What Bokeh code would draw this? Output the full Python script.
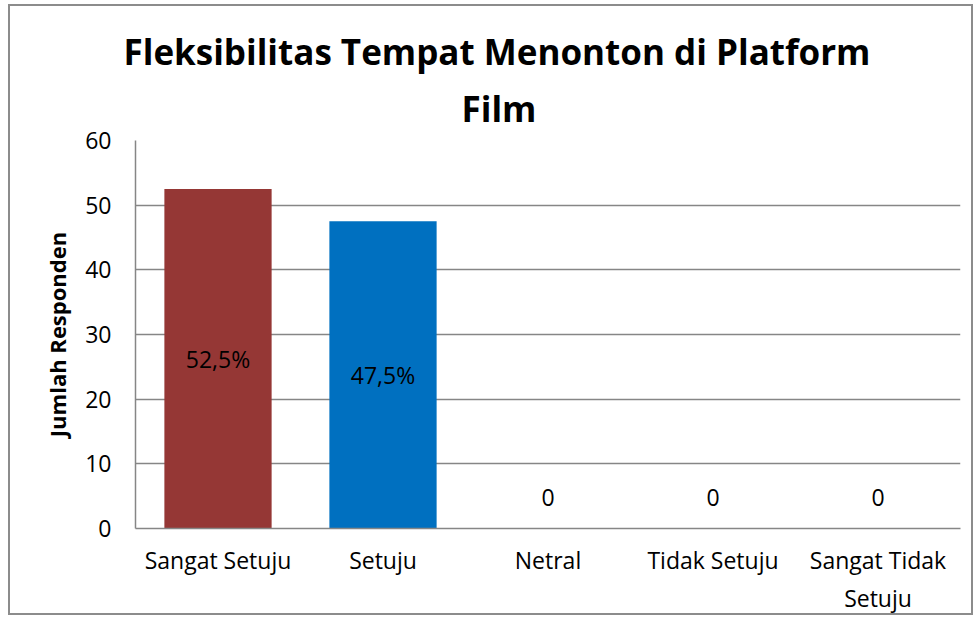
from bokeh.plotting import figure
from bokeh.models import ColumnDataSource, FactorRange, Range1d, Title
from bokeh.core.properties import value
from bokeh.embed import file_html
from bokeh.resources import INLINE

categories = ["Sangat Setuju", "Setuju", "Netral", "Tidak Setuju", "Sangat Tidak\nSetuju"]
values = [52.5, 47.5, 0, 0, 0]
label_texts = ["52,5%", "47,5%", "0", "0", "0"]
colors = ["#953735", "#0070C0", "#4F81BD", "#4F81BD", "#4F81BD"]
y_ticks = [0, 10, 20, 30, 40, 50, 60]
title_lines = ["Fleksibilitas Tempat Menonton di Platform", "Film"]

FONT = "Open Sans"
GRID = "#868686"

src = ColumnDataSource(dict(cat=categories, val=values, color=colors))

p = figure(
    width=965, height=611,
    x_range=FactorRange(factors=categories, range_padding=0),
    y_range=Range1d(0, 60),
    output_backend="svg", toolbar_location=None,
    min_border_left=125, min_border_right=15, min_border_top=134, min_border_bottom=89,
    styles={"border": "2px solid #8c8c8c", "margin-left": "8px", "margin-top": "4px"},
)

p.vbar(x="cat", top="val", width=0.65, color="color", line_color=None, source=src)

nz = ColumnDataSource(dict(cat=categories[:2], y=[v / 2 for v in values[:2]], lab=label_texts[:2]))
zz = ColumnDataSource(dict(cat=categories[2:], y=values[2:], lab=label_texts[2:]))
p.text(x="cat", y="y", text="lab", source=nz, text_align="center", text_baseline="middle",
       text_font=value(FONT), text_font_size="23px", text_color="black")
p.text(x="cat", y="y", text="lab", source=zz, text_align="center", text_baseline="middle",
       text_font=value(FONT), text_font_size="23px", text_color="black", y_offset=-31)

p.title.text = title_lines[0]
p.title.align = "left"
p.title.offset = -12
p.title.text_font = FONT
p.title.text_font_size = "35px"
p.title.text_font_style = "bold"
p.title.text_color = "black"
p.title.standoff = 0
p.add_layout(Title(text=title_lines[1], align="left", offset=326, text_color="black", standoff=17,
                   text_font=FONT, text_font_size="35px", text_font_style="bold"), "above")

p.yaxis.ticker = y_ticks
p.yaxis.axis_label = "Jumlah Responden"
p.yaxis.axis_label_text_font = FONT
p.yaxis.axis_label_text_font_size = "22px"
p.yaxis.axis_label_text_font_style = "bold"
p.yaxis.axis_label_text_color = "black"
p.yaxis.axis_label_standoff = 10
for ax in (p.xaxis, p.yaxis):
    ax.major_label_text_font = FONT
    ax.major_label_text_font_size = "23px"
    ax.major_label_text_color = "black"
    ax.axis_line_color = GRID
    ax.axis_line_width = 1.5
    ax.major_tick_line_color = None
    ax.minor_tick_line_color = None
    ax.major_tick_out = 0
    ax.major_tick_in = 0
p.yaxis.major_label_standoff = 24
p.xaxis.major_label_standoff = 15

p.xgrid.grid_line_color = None
p.ygrid.grid_line_color = GRID
p.ygrid.grid_line_width = 1.5
p.outline_line_color = None

open("out.html", "w").write(file_html(p, INLINE))
